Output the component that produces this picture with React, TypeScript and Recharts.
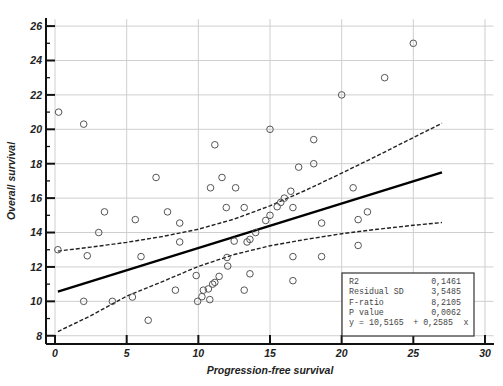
import React from 'react';
import { ScatterChart, Scatter, XAxis, YAxis, ReferenceLine } from 'recharts';

// Observed points: progression-free survival (x) vs overall survival (y)
const pfs = [
  0.25, 2.0, 7.05, 11.15, 11.65, 10.85, 12.6, 25.0, 23.0, 20.0,
  15.0, 18.05, 17.0, 18.05, 20.8, 16.45, 16.0, 15.75, 15.5, 15.0,
  14.7, 14.0, 13.6, 13.4, 12.5, 11.95, 13.2, 16.6, 18.6, 21.15,
  21.8, 21.15, 16.6, 18.6, 16.6, 13.6, 13.2, 12.0, 12.05, 11.45,
  11.15, 11.0, 10.7, 10.35, 10.25, 10.8, 9.95, 9.85, 8.4, 6.5,
  5.4, 4.0, 2.0, 0.2, 2.25, 3.05, 3.45, 5.6, 6.0, 7.85,
  8.7, 8.7,
];
const os = [
  21.0, 20.3, 17.2, 19.1, 17.2, 16.6, 16.6, 25.0, 23.0, 22.0,
  20.0, 19.4, 17.8, 18.0, 16.6, 16.4, 16.0, 15.75, 15.5, 15.0,
  14.7, 14.0, 13.6, 13.45, 13.5, 15.45, 15.45, 15.45, 14.55, 14.75,
  15.2, 13.25, 12.6, 12.6, 11.2, 11.6, 10.65, 12.55, 12.05, 11.45,
  11.1, 11.0, 10.72, 10.65, 10.27, 10.1, 10.0, 11.5, 10.65, 8.9,
  10.25, 10.0, 10.0, 13.0, 12.65, 14.0, 15.2, 14.75, 12.6, 15.2,
  14.55, 13.45,
];

// Regression line end points
const fitX = [0.2, 27];
const fitY = [10.57, 17.5];

// 95% confidence band
const bandX = [0.2, 2.5, 5, 7.5, 10, 12.5, 15, 17.5, 20, 22.5, 25, 27];
const bandUpper = [12.92, 13.15, 13.43, 13.77, 14.19, 14.78, 15.55, 16.46, 17.45, 18.47, 19.52, 20.35];
const bandLower = [8.24, 9.17, 10.3, 11.15, 12.03, 12.72, 13.23, 13.6, 13.93, 14.19, 14.42, 14.58];

const xTicks = [0, 5, 10, 15, 20, 25, 30];
const yTicks = [8, 10, 12, 14, 16, 18, 20, 22, 24, 26];
const yMinorTicks = [9, 11, 13, 15, 17, 19, 21, 23, 25];

const statLabels = ['R2', 'Residual SD', 'F-ratio', 'P value'];
const statValues = ['0,1461', '3,5485', '8,2105', '0,0062'];
const equationParts = ['y = 10,5165', '+', '0,2585', 'x'];

const xTitle = 'Progression-free survival';
const yTitle = 'Overall survival';

const X_DOMAIN: [number, number] = [-0.63, 30.63];
const Y_DOMAIN: [number, number] = [7.52, 26.47];

const points = pfs.map((x, i) => ({ x, y: os[i] }));
const fitData = fitX.map((x, i) => ({ x, y: fitY[i] }));
const upperData = bandX.map((x, i) => ({ x, y: bandUpper[i] }));
const lowerData = bandX.map((x, i) => ({ x, y: bandLower[i] }));

const FONT = '"Liberation Sans", Arial, sans-serif';
const MONO = '"Liberation Mono", "DejaVu Sans Mono", monospace';

const XTick = (props: any) => {
  const { x, y, payload } = props;
  return (
    <g>
      <line x1={x} x2={x} y1={y} y2={y - 9} stroke="#111" strokeWidth={2} />
      <text x={x} y={y + 13} textAnchor="middle" fontFamily={FONT} fontSize={10.5}
        fontWeight="bold" fontStyle="italic" fill="#222">{payload.value}</text>
    </g>
  );
};

const YTick = (props: any) => {
  const { x, y, payload } = props;
  const major = yTicks.includes(payload.value);
  return (
    <g>
      <line x1={x} x2={x + (major ? 9 : 4)} y1={y} y2={y} stroke="#111" strokeWidth={major ? 2 : 1.3} />
      {major && (
        <text x={x - 4} y={y + 3.8} textAnchor="end" fontFamily={FONT} fontSize={10.5}
          fontWeight="bold" fontStyle="italic" fill="#222">{payload.value}</text>
      )}
    </g>
  );
};

const Circle = (props: any) => {
  const { cx, cy } = props;
  return <circle cx={cx} cy={cy} r={3.3} fill="none" stroke="#555" strokeWidth={1} />;
};

const NoShape = () => <g />;

export default function App() {
  return (
    <div style={{ position: 'absolute', left: 0, top: 0, width: 503, height: 386, background: '#fff' }}>
      <ScatterChart width={503} height={386} margin={{ top: 18, right: 9, bottom: 0, left: 0 }}>
        <XAxis type="number" dataKey="x" domain={X_DOMAIN} ticks={xTicks} interval={0}
          allowDataOverflow height={42} tickSize={0} tickMargin={0} tickLine={false}
          axisLine={{ stroke: '#111', strokeWidth: 2 }} tick={<XTick />} />
        <YAxis type="number" dataKey="y" domain={Y_DOMAIN} ticks={[...yTicks, ...yMinorTicks]} interval={0}
          allowDataOverflow width={46} tickSize={0} tickMargin={0} tickLine={false}
          axisLine={{ stroke: '#111', strokeWidth: 2 }} tick={<YTick />} />
        {yTicks.map((v) => (
          <ReferenceLine key={'h' + v} segment={[{ x: 0, y: v }, { x: 30.6, y: v }]}
            stroke="#cfcfcf" strokeWidth={1} ifOverflow="visible" />
        ))}
        {xTicks.map((v) => (
          <ReferenceLine key={'v' + v} segment={[{ x: v, y: 8 }, { x: v, y: 26.4 }]}
            stroke="#cfcfcf" strokeWidth={1} ifOverflow="visible" />
        ))}
        <Scatter data={upperData} shape={NoShape} lineType="joint" isAnimationActive={false}
          line={{ stroke: '#222', strokeWidth: 1.4, strokeDasharray: '4 2' }} />
        <Scatter data={lowerData} shape={NoShape} lineType="joint" isAnimationActive={false}
          line={{ stroke: '#222', strokeWidth: 1.4, strokeDasharray: '4 2' }} />
        <Scatter data={fitData} shape={NoShape} lineType="joint" isAnimationActive={false}
          line={{ stroke: '#000', strokeWidth: 2.4 }} />
        <Scatter data={points} shape={Circle} isAnimationActive={false} />
      </ScatterChart>
      <svg width={503} height={386} style={{ position: 'absolute', left: 0, top: 0, pointerEvents: 'none' }}>
        <text x={270} y={374} textAnchor="middle" fontFamily={FONT} fontSize={10.5}
          fontWeight="bold" fontStyle="italic" fill="#222">{xTitle}</text>
        <text x={15} y={181} textAnchor="middle" fontFamily={FONT} fontSize={10.5}
          fontWeight="bold" fontStyle="italic" fill="#222" transform="rotate(-90 15 181)">{yTitle}</text>
        <rect x={342} y={273} width={132} height={63} fill="#fff" stroke="#333" strokeWidth={1.2} />
        {statLabels.map((s, i) => (
          <text key={s} x={349} y={284 + i * 10.3} fontFamily={MONO} fontSize={8.3} fill="#444">{s}</text>
        ))}
        {statValues.map((s, i) => (
          <text key={s} x={461} y={284 + i * 10.3} textAnchor="end" fontFamily={MONO} fontSize={8.3} fill="#444">{s}</text>
        ))}
        <text x={349} y={325.2} fontFamily={MONO} fontSize={8.3} fill="#444">{equationParts[0]}</text>
        <text x={415.7} y={325.2} textAnchor="middle" fontFamily={MONO} fontSize={8.3} fill="#444">{equationParts[1]}</text>
        <text x={453} y={325.2} textAnchor="end" fontFamily={MONO} fontSize={8.3} fill="#444">{equationParts[2]}</text>
        <text x={466} y={325.2} textAnchor="middle" fontFamily={MONO} fontSize={8.3} fill="#444">{equationParts[3]}</text>
      </svg>
    </div>
  );
}
